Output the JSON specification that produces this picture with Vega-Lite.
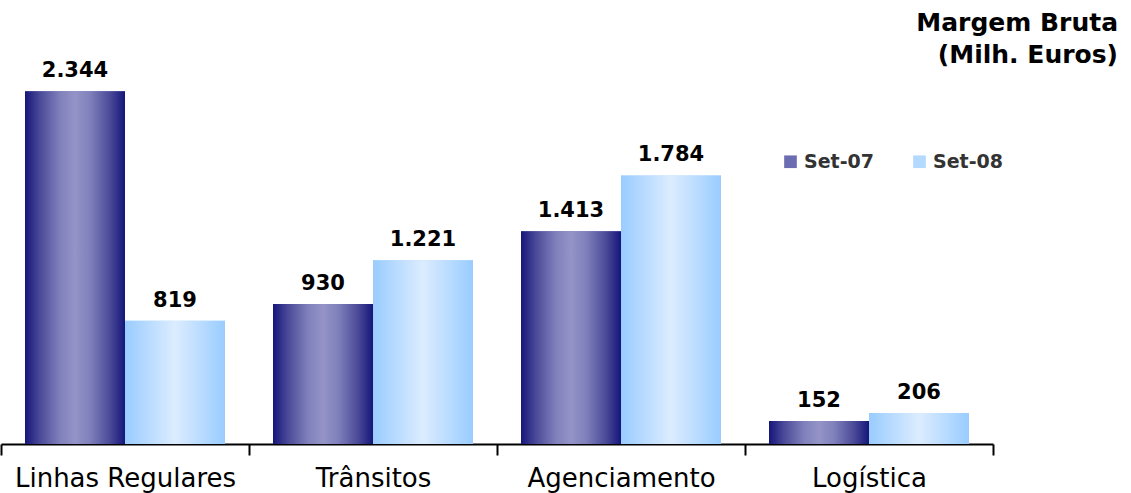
{
  "$schema": "https://vega.github.io/schema/vega-lite/v6.json",
  "width": 992,
  "height": 444,
  "autosize": "none",
  "padding": {"left": 1, "top": 0, "right": 138, "bottom": 49},
  "config": {
    "view": {"stroke": null},
    "locale": {"number": {"decimal": ",", "thousands": ".", "grouping": [3], "currency": ["€", ""]}},
    "font": "DejaVu Sans"
  },
  "title": {
    "text": ["Margem Bruta", "(Milh. Euros)"],
    "anchor": "end",
    "dx": 115,
    "baseline": "top",
    "offset": 0,
    "dy": 68,
    "fontSize": 25,
    "font": "DejaVu Sans",
    "fontWeight": "bold",
    "color": "black",
    "lineHeight": 32
  },
  "data": {
    "values": [
      {"categoria": "Linhas Regulares", "periodo": "Set-07", "valor": 2344},
      {"categoria": "Linhas Regulares", "periodo": "Set-08", "valor": 819},
      {"categoria": "Trânsitos", "periodo": "Set-07", "valor": 930},
      {"categoria": "Trânsitos", "periodo": "Set-08", "valor": 1221},
      {"categoria": "Agenciamento", "periodo": "Set-07", "valor": 1413},
      {"categoria": "Agenciamento", "periodo": "Set-08", "valor": 1784},
      {"categoria": "Logística", "periodo": "Set-07", "valor": 152},
      {"categoria": "Logística", "periodo": "Set-08", "valor": 206}
    ]
  },
  "encoding": {
    "x": {
      "field": "categoria",
      "type": "nominal",
      "sort": null,
      "scale": {"paddingInner": 0, "paddingOuter": 0},
      "axis": {
        "title": null,
        "labelAngle": 0,
        "labelFontSize": 26,
        "labelLimit": 0,
        "labelColor": "black",
        "labelFont": "DejaVu Sans",
        "tickBand": "extent",
        "tickSize": 11,
        "tickWidth": 2,
        "tickColor": "black",
        "domainColor": "black",
        "domainWidth": 2,
        "labelPadding": 10,
        "grid": false
      }
    },
    "xOffset": {"field": "periodo", "type": "nominal", "scale": {"paddingInner": 0, "paddingOuter": 0.24}},
    "y": {
      "field": "valor",
      "type": "quantitative",
      "scale": {"domain": [0, 2950], "nice": false},
      "axis": null
    }
  },
  "layer": [
    {
      "mark": {"type": "bar"},
      "encoding": {
        "fill": {
          "field": "periodo",
          "type": "nominal",
          "scale": {"domain": ["Set-07", "Set-08"], "range": ["#6c6cb2", "#b4d9ff"]},
          "legend": {
            "title": null,
            "orient": "none",
            "legendX": 780,
            "legendY": 152,
            "direction": "horizontal",
            "symbolType": "square",
            "symbolSize": 160,
            "symbolStrokeWidth": 0,
            "labelFontSize": 19,
            "labelFontWeight": "bold",
            "labelColor": "#333333",
            "labelFont": "DejaVu Sans",
            "labelOffset": 4,
            "columnPadding": 36
          }
        }
      }
    },
    {
      "mark": {"type": "bar"},
      "encoding": {
        "fill": {
          "condition": {
            "test": "datum.periodo === 'Set-07'",
            "value": {"gradient": "linear", "x1": 0, "y1": 0, "x2": 1, "y2": 0,
              "stops": [
                {"offset": 0, "color": "#16167a"},
                {"offset": 0.15, "color": "#4a4a98"},
                {"offset": 0.35, "color": "#8080bc"},
                {"offset": 0.5, "color": "#9494c8"},
                {"offset": 0.65, "color": "#8080bc"},
                {"offset": 0.85, "color": "#4a4a98"},
                {"offset": 1, "color": "#16167a"}
              ]}
          },
          "value": {"gradient": "linear", "x1": 0, "y1": 0, "x2": 1, "y2": 0,
            "stops": [
              {"offset": 0, "color": "#99ccff"},
              {"offset": 0.2, "color": "#b4d9ff"},
              {"offset": 0.5, "color": "#dcecff"},
              {"offset": 0.8, "color": "#b4d9ff"},
              {"offset": 1, "color": "#99ccff"}
            ]}
        }
      }
    },
    {
      "mark": {"type": "text", "dy": -14, "baseline": "alphabetic", "fontSize": 21, "fontWeight": "bold", "color": "black", "font": "DejaVu Sans"},
      "encoding": {
        "text": {"field": "valor", "type": "quantitative", "format": ",d"}
      }
    }
  ]
}
